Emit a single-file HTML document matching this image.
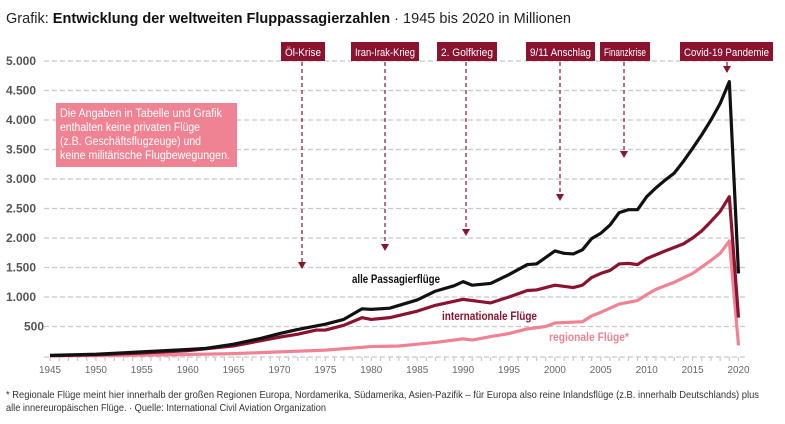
<!DOCTYPE html>
<html><head><meta charset="utf-8"><style>
body{margin:0;background:#fff;width:785px;height:419px;overflow:hidden;font-family:"Liberation Sans",sans-serif}
svg text{font-family:"Liberation Sans",sans-serif}
</style></head><body>
<svg id="s" width="785" height="419" xmlns="http://www.w3.org/2000/svg">
<text x="6" y="23" font-size="14.5" fill="#222" textLength="565" lengthAdjust="spacingAndGlyphs">Grafik: <tspan font-weight="bold" fill="#111">Entwicklung der weltweiten Fluppassagierzahlen</tspan> · 1945 bis 2020 in Millionen</text>
<g id="grid" stroke="#c8c8c8" stroke-dasharray="5,3" stroke-width="1.2"></g>
<g id="ylab" font-size="12" fill="#555" font-weight="bold"></g>
<g id="xlab" font-size="10.5" fill="#666" text-anchor="middle"></g>
<g id="ann"></g>
<rect x="56" y="103" width="181" height="64" fill="#f08393"/>
<g font-size="11.5" fill="#fff" lengthAdjust="spacingAndGlyphs"><text x="60" y="117" textLength="162" lengthAdjust="spacingAndGlyphs">Die Angaben in Tabelle und Grafik</text><text x="60" y="131" textLength="140" lengthAdjust="spacingAndGlyphs">enthalten keine privaten Flüge</text><text x="60" y="145" textLength="141" lengthAdjust="spacingAndGlyphs">(z.B. Geschäftsflugzeuge) und</text><text x="60" y="159" textLength="170" lengthAdjust="spacingAndGlyphs">keine militärische Flugbewegungen.</text></g>
<g id="lines" fill="none" stroke-linejoin="round"></g>
<text x="352" y="283" font-size="12" font-weight="bold" fill="#111" textLength="88" lengthAdjust="spacingAndGlyphs">alle Passagierflüge</text>
<text x="442" y="320" font-size="12" font-weight="bold" fill="#8a1330" textLength="95" lengthAdjust="spacingAndGlyphs">internationale Flüge</text>
<text x="549" y="341" font-size="12" font-weight="bold" fill="#f08393" textLength="80" lengthAdjust="spacingAndGlyphs">regionale Flüge*</text>
<text x="6" y="398" font-size="10.5" fill="#333" textLength="753" lengthAdjust="spacingAndGlyphs">* Regionale Flüge meint hier innerhalb der großen Regionen Europa, Nordamerika, Südamerika, Asien-Pazifik – für Europa also reine Inlandsflüge (z.B. innerhalb Deutschlands) plus</text>
<text x="6" y="411" font-size="10.5" fill="#333" textLength="320" lengthAdjust="spacingAndGlyphs">alle innereuropäischen Flüge. · Quelle: International Civil Aviation Organization</text>
</svg>
<script>
const NS="http://www.w3.org/2000/svg";
const X=y=>50+(y-1945)*9.18, Y=v=>356-v*0.059;
function el(p,t,a,txt){const e=document.createElementNS(NS,t);for(const k in a)e.setAttribute(k,a[k]);if(txt)e.textContent=txt;document.getElementById(p).appendChild(e);return e;}
for(let v=500;v<=5000;v+=500){el('grid','line',{x1:44,x2:746,y1:Y(v),y2:Y(v)});
 el('ylab','text',{x:v<1000?24:6,y:Y(v)+4},v>=1000?(Math.floor(v/1000)+'.'+String(v%1000).padStart(3,'0')):'500');}
el('grid','line',{x1:44,x2:746,y1:357,y2:357});
for(let y=1945;y<=2020;y++)el('grid','line',{x1:X(y),x2:X(y),y1:357,y2:361,'stroke-dasharray':'none'});
for(let y=1945;y<=2020;y+=5)el('xlab','text',{x:X(y),y:373,textLength:22,lengthAdjust:'spacingAndGlyphs'},y);
const anns=[["Öl-Krise",281,325,302,268],["Iran-Irak-Krieg",351,419,385,250],["2. Golfkrieg",437,497,466,235],["9/11 Anschlag",526,595,560,200],["Finanzkrise",600,650,624,157],["Covid-19 Pandemie",680,773,727,72]];
anns.forEach(a=>{el('ann','rect',{x:a[1],y:42,width:a[2]-a[1],height:19,fill:'#8a1330'});
el('ann','text',{x:a[1]+4,y:56,'font-size':11,fill:'#fff',textLength:a[2]-a[1]-8,lengthAdjust:'spacingAndGlyphs'},a[0]);
el('ann','line',{x1:a[3],x2:a[3],y1:62,y2:a[4],stroke:'#8a1330','stroke-dasharray':'4,3','stroke-width':1.2});
el('ann','path',{d:`M${a[3]-4},${a[4]-6}L${a[3]},${a[4]+1}L${a[3]+4},${a[4]-6}Z`,fill:'#8a1330'});});
const all=[[1945,10],[1950,30],[1955,70],[1960,110],[1962,130],[1965,200],[1968,300],[1970,380],[1972,450],[1975,540],[1977,620],[1979,800],[1980,790],[1982,810],[1985,950],[1987,1100],[1989,1190],[1990,1260],[1991,1200],[1993,1230],[1995,1380],[1997,1550],[1998,1560],[2000,1780],[2001,1740],[2002,1730],[2003,1800],[2004,1990],[2005,2080],[2006,2220],[2007,2430],[2008,2480],[2009,2480],[2010,2700],[2011,2850],[2012,2980],[2013,3100],[2014,3300],[2015,3520],[2016,3750],[2017,4000],[2018,4280],[2019,4650],[2020,1400]];
const intl=[[1945,5],[1950,20],[1955,50],[1960,90],[1965,170],[1970,320],[1972,370],[1974,440],[1975,440],[1977,520],[1979,650],[1980,620],[1982,650],[1985,760],[1987,860],[1990,960],[1991,940],[1993,900],[1995,1000],[1997,1110],[1998,1120],[2000,1200],[2002,1160],[2003,1200],[2004,1330],[2005,1400],[2006,1450],[2007,1560],[2008,1570],[2009,1550],[2010,1650],[2012,1780],[2014,1900],[2015,2000],[2016,2120],[2017,2280],[2018,2450],[2019,2700],[2020,650]];
const reg=[[1945,3],[1955,15],[1960,25],[1965,40],[1970,70],[1975,100],[1980,160],[1983,170],[1985,200],[1987,230],[1990,290],[1991,270],[1993,330],[1995,380],[1997,460],[1999,500],[2000,560],[2003,580],[2004,680],[2005,740],[2007,880],[2009,940],[2010,1040],[2011,1130],[2013,1250],[2015,1400],[2017,1620],[2018,1740],[2019,1950],[2020,180]];
[[reg,'#f08393'],[intl,'#8a1330'],[all,'#111']].forEach(([d,c])=>el('lines','polyline',{points:d.map(p=>X(p[0])+','+Y(p[1])).join(' '),stroke:c,'stroke-width':3.2}));
</script>
</body></html>
